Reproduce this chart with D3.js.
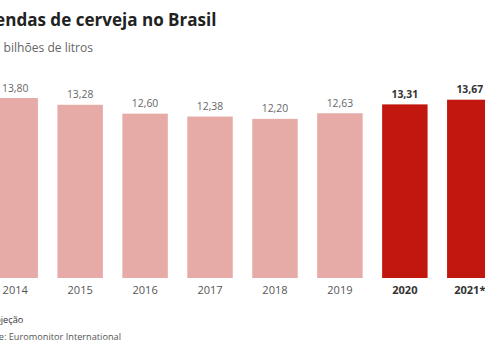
<!DOCTYPE html>
<html>
<head>
<meta charset="utf-8">
<script src="https://cdn.jsdelivr.net/npm/d3@7"></script>
<style>
  body { margin: 0; background: #fff; }
  svg { display: block; font-family: "Open Sans", sans-serif; }
</style>
</head>
<body>
<div id="main-chart"></div>
<script>
const width = 485;
const height = 360;
const years = ["2014", "2015", "2016", "2017", "2018", "2019", "2020", "2021*"];
const sales = [13.8, 13.28, 12.6, 12.38, 12.2, 12.63, 13.31, 13.67];
const highlighted = ["2020", "2021*"];
const pink = "#e7aba7";
const red = "#c2170e";

const svg = d3
  .select("#main-chart")
  .append("svg")
  .attr("width", width)
  .attr("height", height);

const data = years.map((d, i) => ({ year: d, value: sales[i] }));

// measure a string at a given size / weight
const measure = (str, size, weight) => {
  const t = svg
    .append("text")
    .style("font-size", `${size}px`)
    .style("font-weight", weight)
    .text(str);
  const w = t.node().getComputedTextLength();
  t.remove();
  return w;
};

// the picture is cropped on the left: size the text so that its visible
// tail spans [x0, x1] and anchor it at its right end
const croppedText = (full, tail, x0, x1, y, weight, fill) => {
  const size = (14 * (x1 - x0)) / measure(tail, 14, weight);
  svg
    .append("text")
    .attr("x", x1)
    .attr("y", y)
    .attr("text-anchor", "end")
    .style("font-size", `${size}px`)
    .style("font-weight", weight)
    .style("fill", fill)
    .text(full);
  return size;
};

const xScale = d3
  .scaleBand()
  .domain(years)
  .range([-27, 512])
  .padding(0.3);

const yScale = d3.scaleLinear().domain([0, 13.8]).range([278, 98]);

const fmt = (v) => d3.format(".2f")(v).replace(".", ",");
const isHi = (d) => highlighted.includes(d.year);

croppedText(
  "Vendas de cerveja no Brasil",
  "endas de cerveja no Brasil",
  -5, 216.5, 26, 700, "#222"
);
croppedText("Em bilhões de litros", "bilhões de litros", 3.5, 93, 52, 400, "#666");

svg
  .selectAll(".bar")
  .data(data)
  .join("rect")
  .attr("class", "bar")
  .attr("x", (d) => xScale(d.year))
  .attr("width", xScale.bandwidth())
  .attr("y", (d) => yScale(d.value))
  .attr("height", (d) => yScale(0) - yScale(d.value))
  .attr("fill", (d) => (isHi(d) ? red : pink));

const valueSize = (14 * 26.5) / measure("13,28", 14, 400);
svg
  .selectAll(".value-label")
  .data(data)
  .join("text")
  .attr("class", "value-label")
  .attr("x", (d) => xScale(d.year) + xScale.bandwidth() / 2)
  .attr("y", (d) => yScale(d.value) - 6.5)
  .attr("text-anchor", "middle")
  .style("font-size", `${valueSize}px`)
  .style("font-weight", (d) => (isHi(d) ? 700 : 400))
  .style("fill", (d) => (isHi(d) ? "#333" : "#666"))
  .text((d) => fmt(d.value));

const yearSize = (14 * 25.3) / measure("2016", 14, 400);
const xAxis = svg
  .append("g")
  .attr("transform", `translate(0, ${yScale(0)})`)
  .call(d3.axisBottom(xScale).tickSize(0).tickPadding(8));
xAxis.select(".domain").remove();
xAxis
  .selectAll("text")
  .attr("dy", 0)
  .attr("y", 16)
  .style("font-family", "'Open Sans', sans-serif")
  .style("font-size", `${yearSize}px`)
  .style("font-weight", (d) => (highlighted.includes(d) ? 700 : 400))
  .style("fill", (d) => (highlighted.includes(d) ? "#333" : "#555"));

const noteSize = croppedText(
  "Fonte: Euromonitor International",
  "Euromonitor International",
  8.5, 121, 340, 400, "#555"
);
svg
  .append("text")
  .attr("x", 23.3)
  .attr("y", 323)
  .attr("text-anchor", "end")
  .style("font-size", `${noteSize}px`)
  .style("fill", "#333")
  .text("*Projeção");
</script>
</body>
</html>
